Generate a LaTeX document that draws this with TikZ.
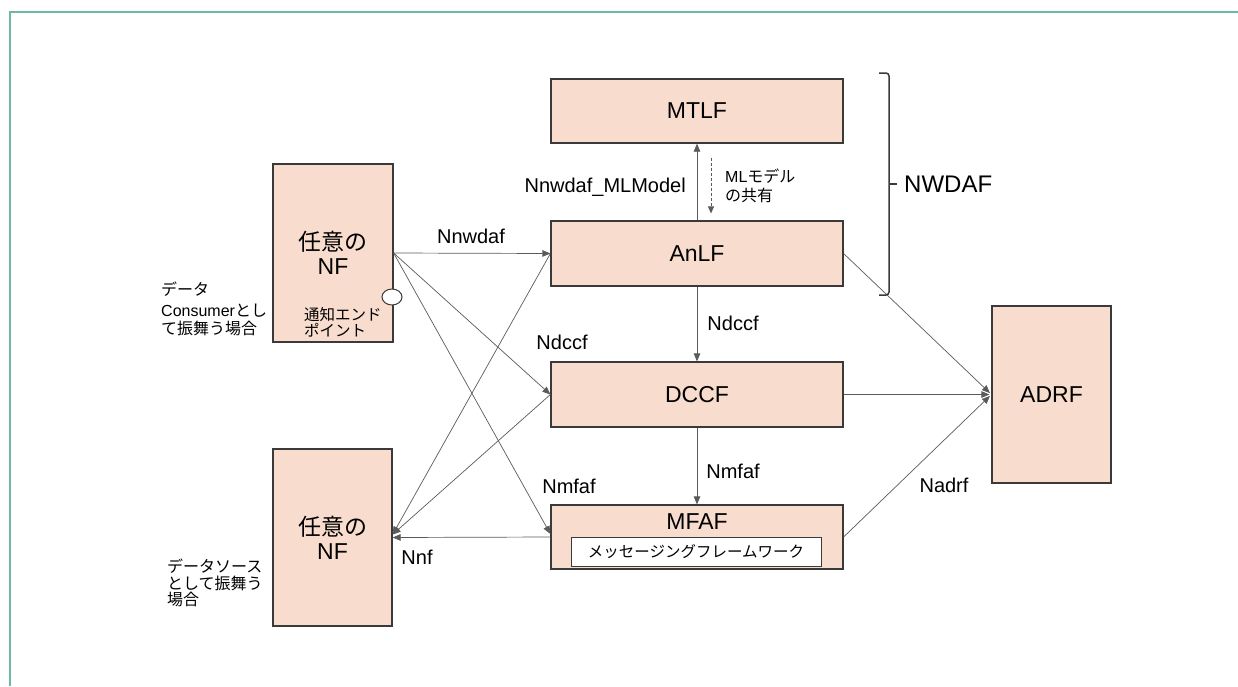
\documentclass[tikz,border=0pt]{standalone}
\usepackage{fontspec}
\setmainfont{Liberation Sans}
\newfontfamily\jpfont{Noto Sans CJK JP}
\usetikzlibrary{arrows.meta,calc,shapes.geometric}
\definecolor{boxfill}{HTML}{F8DCCE}
\definecolor{boxline}{HTML}{3A3A3A}
\definecolor{wire}{HTML}{5A5A5A}
\definecolor{frameteal}{HTML}{6DB9A8}
\newcommand{\J}[1]{{\jpfont #1}}

\begin{document}
\begin{tikzpicture}[x=1pt,y=-1pt,
  nfbox/.style={draw=boxline, fill=boxfill, line width=1.2pt, inner sep=0pt,
    font=\fontsize{23}{24}\selectfont, align=center},
  wirearrow/.style={draw=wire, line width=0.7pt, -{Triangle[length=8pt,width=6.5pt]}},
  lbl/.style={font=\fontsize{20}{22}\selectfont, inner sep=0pt},
  note/.style={font=\fontsize{16}{19}\selectfont, inner sep=0pt, align=left, anchor=west},
]
\useasboundingbox (0,0) rectangle (1238,686);
% page frame
\draw[frameteal, line width=2pt] (10,686) -- (10,11.5) -- (1238,11.5);

% NWDAF functions
\node[nfbox, minimum width=292, minimum height=64] (mtlf) at (697,111) {MTLF};
\node[nfbox, minimum width=292, minimum height=65] (anlf) at (697,253.5) {AnLF};
\node[nfbox, minimum width=292, minimum height=65] (dccf) at (697,394.5) {DCCF};
\node[nfbox, minimum width=292, minimum height=64] (mfaf) at (697,537) {};
\node[font=\fontsize{23}{24}\selectfont, inner sep=0pt] (mfaftitle) at (697,522) {MFAF};
\node[draw=boxline, fill=white, line width=1pt, minimum width=250, minimum height=29,
  inner sep=0pt, font=\fontsize{15.5}{17}\selectfont\jpfont] (mfw) at (696,551.5) {メッセージングフレームワーク};

% ADRF
\node[nfbox, minimum width=119, minimum height=177] (adrf) at (1051.5,394.5) {ADRF};

% consumer / source NFs
\node[nfbox, minimum width=120, minimum height=178] (cnf) at (333,253) {\J{任意の}\\NF};
\node[nfbox, minimum width=119, minimum height=177] (snf) at (332.5,537.5) {\J{任意の}\\NF};
\node[draw=boxline, fill=white, line width=1pt, ellipse, minimum width=20, minimum height=16,
  inner sep=0pt] (ep) at (392,297) {};
\node[font=\fontsize{15.5}{16}\selectfont\jpfont, align=left, anchor=west, inner sep=0pt]
  (eptext) at (304,322) {通知エンド\\ポイント};

\node[note] (croleA) at (161,289) {\J{データ}};
\node[note] (croleB) at (161,311) {Consumer\J{とし}};
\node[note] (croleC) at (161,328) {\J{て振舞う場合}};
\node[note] (sroleA) at (167,566) {\J{データソース}};
\node[note] (sroleB) at (167,583) {\J{として振舞う}};
\node[note] (sroleC) at (167,599) {\J{場合}};

% service interfaces
\draw[wirearrow] (cnf.east) -- (anlf.west);
\draw[wirearrow] (cnf.east) -- (dccf.west);
\draw[wirearrow] (cnf.east) -- ($(mfaf.west)+(0,-3)$);
\draw[wirearrow] (anlf.west) -- ($(snf.east)+(0,-3)$);
\draw[wirearrow] (dccf.west) -- ($(snf.east)+(0,-3)$);
\draw[wirearrow] (mfaf.west) -- (snf.east);

\draw[wirearrow] (anlf.north) -- (mtlf.south);
\draw[draw=wire, line width=0.7pt, dash pattern=on 3pt off 2pt, -{Triangle[length=7pt,width=6pt]}]
  ($(mtlf.south)+(14,14)$) -- ($(anlf.north)+(14,-7)$);
\draw[wirearrow] (anlf.south) -- (dccf.north);
\draw[wirearrow] (dccf.south) -- (mfaf.north);

\draw[wirearrow, shorten >=2pt] (anlf.east) -- (adrf.west);
\draw[wirearrow, shorten >=2pt] (dccf.east) -- (adrf.west);
\draw[wirearrow, shorten >=2pt] (mfaf.east) -- (adrf.west);

% interface labels
\node[lbl] at (471,236) {Nnwdaf};
\node[lbl] at (562,342) {Ndccf};
\node[lbl] at (569,486) {Nmfaf};
\node[lbl] at (417,557) {Nnf};
\node[lbl] at (733,323) {Ndccf};
\node[lbl] at (733,471) {Nmfaf};
\node[lbl] at (944,485) {Nadrf};
\node[lbl, anchor=east] at (686,187) {Nnwdaf\_MLModel};
\node[note] at (725,186) {ML\J{モデル}\\\J{の共有}};

% NWDAF grouping bracket
\draw[boxline, line width=1.5pt, rounded corners=3pt] (879,73) -- (889,73) -- (889,295) -- (879,295);
\draw[boxline, line width=1.5pt] (889,184) -- (897,184);
\node[font=\fontsize{24}{26}\selectfont, anchor=west, inner sep=0pt] (nwdaf) at (904,184) {NWDAF};
\end{tikzpicture}
\end{document}
